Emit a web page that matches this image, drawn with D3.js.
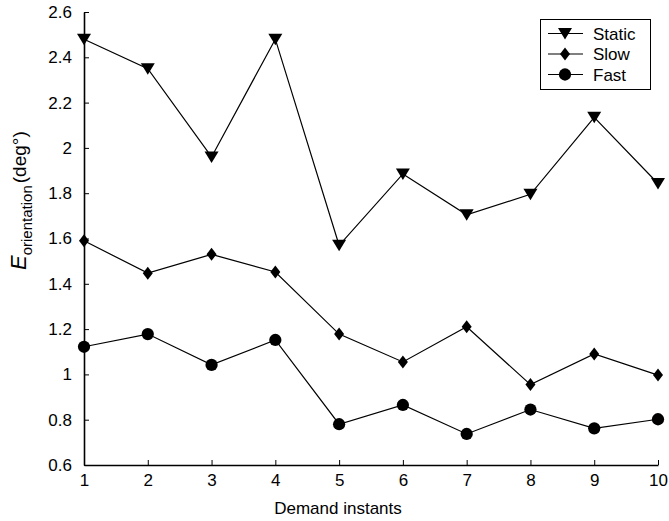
<!DOCTYPE html>
<html><head><meta charset="utf-8">
<script src="https://cdn.jsdelivr.net/npm/d3@7/dist/d3.min.js"></script>
<style>body{margin:0;background:#fff}svg{display:block;font-family:"Liberation Sans",Arial,sans-serif}</style>
</head><body>
<svg id="c" width="669" height="521"></svg>
<script>
const categories = [1,2,3,4,5,6,7,8,9,10];
const staticVals = [2.48,2.35,1.96,2.48,1.57,1.885,1.705,1.795,2.135,1.843];
const slowVals   = [1.59,1.447,1.53,1.452,1.178,1.055,1.21,0.955,1.09,0.997];
const fastVals   = [1.122,1.178,1.042,1.152,0.78,0.865,0.737,0.845,0.762,0.802];
const yTicks = [0.6,0.8,1,1.2,1.4,1.6,1.8,2,2.2,2.4,2.6];
const seriesNames = ["Static","Slow","Fast"];

const svg = d3.select("#c");
const x = d3.scaleLinear().domain([1,10]).range([84,658]);
const y = d3.scaleLinear().domain([0.6,2.6]).range([465,12]);

const xAxis = d3.axisBottom(x).tickValues(categories).tickFormat(d3.format("d")).tickSizeInner(-5).tickSizeOuter(0).tickPadding(9);
const gx = svg.append("g").attr("transform","translate(0,465)").call(xAxis);
const yAxis = d3.axisLeft(y).tickValues(yTicks).tickFormat(d=>d3.format("~g")(d)).tickSizeInner(-5).tickSizeOuter(0).tickPadding(12);
const gy = svg.append("g").attr("transform","translate(84,0)").call(yAxis);
[gx,gy].forEach(g=>{
  g.selectAll("path.domain").attr("stroke","#000").attr("stroke-width",1.6);
  g.selectAll(".tick line").attr("stroke","#000").attr("stroke-width",1);
  g.selectAll("text").attr("font-size",17).attr("fill","#000").attr("font-family","Liberation Sans, Arial, sans-serif");
});

const line = d3.line().x((d,i)=>x(categories[i])).y(d=>y(d));
const data = [staticVals, slowVals, fastVals];
const markerPath = [
  "M-7,-5.5L7,-5.5L0,6Z",
  "M0,-6.5L5,0L0,6.5L-5,0Z",
  d3.symbol().type(d3.symbolCircle).size(118)()
];
data.forEach((vals,k)=>{
  svg.append("path").datum(vals).attr("d",line).attr("fill","none").attr("stroke","#000").attr("stroke-width",1.2);
  svg.selectAll(null).data(vals).enter().append("path")
    .attr("d",markerPath[k])
    .attr("transform",(d,i)=>`translate(${x(categories[i])},${y(d)})`)
    .attr("fill","#000");
});

const lg = svg.append("g");
lg.append("rect").attr("x",540.5).attr("y",19.5).attr("width",110).attr("height",70).attr("fill","#fff").attr("stroke","#000").attr("stroke-width",1);
seriesNames.forEach((n,k)=>{
  const yy = 33.5 + k*20.5;
  lg.append("line").attr("x1",548).attr("x2",583).attr("y1",yy).attr("y2",yy).attr("stroke","#000").attr("stroke-width",1.2);
  lg.append("path").attr("d",markerPath[k]).attr("transform",`translate(565,${yy})`).attr("fill","#000");
  lg.append("text").attr("x",593).attr("y",yy+6).attr("font-size",17).text(n);
});

svg.append("text").attr("x",338).attr("y",514).attr("text-anchor","middle").attr("font-size",17).text("Demand instants");
const yl = svg.append("text").attr("transform","translate(26,270) rotate(-90)").attr("font-size",20);
yl.append("tspan").attr("font-style","italic").attr("font-size",22).text("E");
yl.append("tspan").attr("font-size",15).attr("dy",6).text("orientation");
yl.append("tspan").attr("font-size",19).attr("dy",-6).attr("dx",2).text("(deg°)");
</script>
</body></html>
